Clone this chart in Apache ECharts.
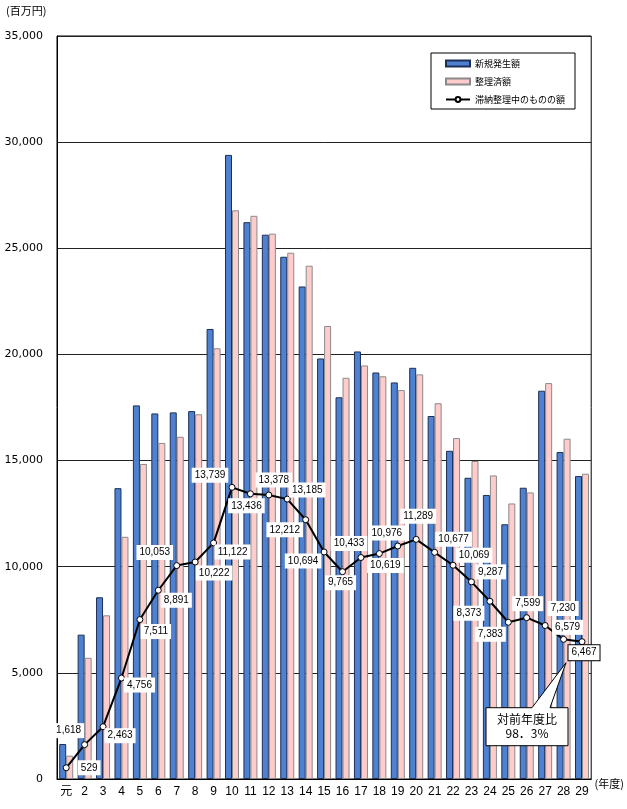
<!DOCTYPE html>
<html><head><meta charset="utf-8">
<script src="https://cdn.jsdelivr.net/npm/echarts@6/dist/echarts.min.js"></script>
<style>html,body{margin:0;padding:0;background:#fff}#c{width:627px;height:809px}</style>
</head><body><div id="c"></div>
<script>
const categories = ['元','2','3','4','5','6','7','8','9','10','11','12','13','14','15','16','17','18','19','20','21','22','23','24','25','26','27','28','29'];
const newAmounts = [1650,6800,8560,13700,17600,17220,17270,17330,21200,29400,26230,25640,24600,23200,19810,17980,20140,19150,18680,19370,17100,15460,14190,13380,12000,13720,18290,15400,14270];
const settledAmounts = [1100,5710,7710,11410,14840,15830,16120,17180,20290,26790,26530,25690,24790,24180,21340,18900,19480,18970,18320,19060,17700,16060,14980,14300,12980,13500,18650,16030,14380];
const outstanding = [529,1618,2463,4756,7511,8891,10053,10222,11122,13739,13436,13378,13185,12212,10694,9765,10433,10619,10976,11289,10677,10069,9287,8373,7383,7599,7230,6579,6467];
const seriesNames = ['新規発生額','整理済額','滞納整理中のものの額'];
const calloutText = ['対前年度比','98．3%'];

// label offsets (style only)
const labelOffsets = [[23,0],[-16,-14],[17,9],[18,7],[16,12],[18,10],[-22,-13],[19,11],[19,9],[-22,-12],[-4,12],[5,-15],[20,-9],[-21,10],[-21,9],[-2,11],[-12,-14],[6,12],[-11,-13],[2,-23],[19,-13],[21,-10],[19,-10],[-21,12],[-18,12],[1,-14],[18,-17],[4,-12],[2,11]];

const FONT = "'Liberation Sans','Noto Sans CJK JP',sans-serif";
const JFONT = "'Noto Sans CJK JP',sans-serif";
const chart = echarts.init(document.getElementById('c'));
const lineData = outstanding.map((v,i)=>{
  const d = {value:v, label:{offset:labelOffsets[i]}};
  if(i===outstanding.length-1){ d.label.borderColor='#000'; d.label.borderWidth=1; }
  return d;
});
chart.setOption({
  animation:false,
  textStyle:{fontFamily:FONT},
  grid:{left:57,right:35,top:36,bottom:30,show:true,borderColor:'#000',borderWidth:1},
  legend:{
    orient:'vertical', left:431, top:53, itemWidth:24, itemHeight:6, itemGap:9,
    padding:[6,10,5,14], backgroundColor:'#fff', borderColor:'#000', borderWidth:1,
    textStyle:{fontFamily:JFONT,fontSize:9,color:'#000'},
    data:[{name:seriesNames[0],icon:'rect'},{name:seriesNames[1],icon:'rect'},{name:seriesNames[2]}]
  },
  xAxis:{
    type:'category', data:categories,
    axisLine:{lineStyle:{color:'#000'}}, axisTick:{show:false},
    axisLabel:{color:'#000',fontSize:12,margin:7,fontFamily:FONT,interval:0},
    name:'(年度)', nameLocation:'end', nameGap:-4,
    nameTextStyle:{fontFamily:JFONT,fontSize:11,color:'#000',verticalAlign:'top',padding:[-1,0,0,0]}
  },
  yAxis:{
    type:'value', min:0, max:35000, interval:5000,
    axisLine:{show:true,lineStyle:{color:'#000'}}, axisTick:{show:false},
    axisLabel:{color:'#000',fontSize:11,margin:14,fontFamily:"'DejaVu Sans',sans-serif",formatter:v=>v.toLocaleString('en-US')},
    splitLine:{lineStyle:{color:'#222',width:1}}
  },
  series:[
    {name:seriesNames[0],type:'bar',data:newAmounts,barGap:'0%',barCategoryGap:'24%',
     itemStyle:{color:'#4f81d3',borderColor:'#1e2f55',borderWidth:1}},
    {name:seriesNames[1],type:'bar',data:settledAmounts,
     itemStyle:{color:'#ffcccc',borderColor:'#8a8a8a',borderWidth:1}},
    {name:seriesNames[2],type:'line',data:lineData,z:5,
     symbol:'circle',symbolSize:6,
     itemStyle:{color:'#fff',borderColor:'#000',borderWidth:1},
     lineStyle:{color:'#000',width:2},
     label:{show:true,position:'inside',color:'#000',fontSize:10,fontFamily:FONT,
       backgroundColor:'#fff',padding:[3,3,2,3],
       formatter:p=>p.value.toLocaleString('en-US')}}
  ]
});
const n = outstanding.length-1;
const p = chart.convertToPixel({seriesIndex:2},[n,outstanding[n]]);
const x0=p[0]-96, x1=p[0]-14, y0=p[1]+66, y1=p[1]+104;
const tip=[p[0]-16,p[1]+21];
chart.setOption({graphic:[
  {type:'text',left:6,top:5,style:{text:'(百万円)',font:'11px '+JFONT,fill:'#000'}},
  {type:'polygon',z:10,shape:{points:[[x0,y0],[p[0]-50,y0],tip,[p[0]-32,y0],[x1,y0],[x1,y1],[x0,y1]]},
   style:{fill:'#fff',stroke:'#000',lineWidth:1}},
  {type:'text',z:11,x:(x0+x1)/2,y:(y0+y1)/2,style:{text:calloutText.join('\n'),font:'12px '+JFONT,fill:'#000',align:'center',verticalAlign:'middle',lineHeight:14}}
]});
</script></body></html>
